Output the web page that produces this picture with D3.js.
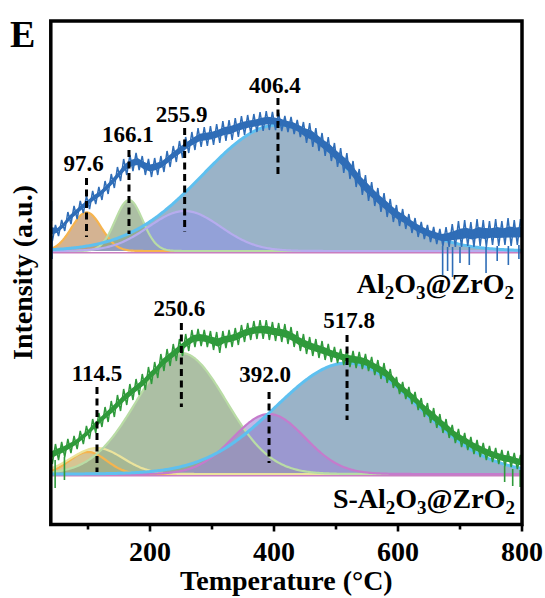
<!DOCTYPE html>
<html><head><meta charset="utf-8">
<script src="https://cdn.jsdelivr.net/npm/d3@7"></script>
<style>body{margin:0;background:#fff}svg{display:block}</style>
</head><body>
<svg id="chart" width="545" height="598"></svg>
<script>
// ---------- DATA ----------
// Temperature grid: 40..800 °C every 10 °C
const tempStart = 40, tempStep = 10;

// Al2O3@ZrO2 : noisy TPD trace, lower / upper envelope of the noise band (a.u. above baseline)
const topLow  = [10,15,20,27,32,38,42,47,51,57,63,70,76,80,81,76,74,76,79,84,89,93,98,101,104,105,106,108,110,111,114,116,118,119,120,121,121,120,119,117,114,108,104,100,95,90,84,78,72,64,56,50,45,39,34,29,25,22,18,14,12,9,7,5,4,4,4,5,4,5,4,6,5,6,5,6,6];
const topHigh = [30,26,31,39,45,50,55,60,64,70,77,84,92,96,98,95,92,93,95,100,105,110,114,119,123,124,125,127,130,131,133,135,136,137,139,140,139,138,135,134,131,129,128,123,118,114,108,103,98,90,82,76,69,63,58,52,46,42,37,33,29,26,24,22,24,27,30,31,29,32,31,30,32,30,33,31,32];
// S-Al2O3@ZrO2
const botLow  = [10,14,17,21,25,30,35,41,47,52,57,63,69,74,79,84,90,96,103,108,113,118,123,127,128,127,124,121,126,127,129,132,134,135,135,134,133,132,130,127,123,120,118,116,114,112,111,109,107,106,105,103,99,95,91,86,80,75,70,64,57,51,46,41,36,31,27,24,20,17,14,12,10,8,7,5,4];
const botHigh = [28,30,32,35,38,43,48,55,61,67,73,79,85,90,95,100,107,112,120,125,130,135,140,144,145,144,143,142,143,144,146,149,151,153,154,154,152,151,150,147,143,140,137,135,133,130,127,125,124,123,122,120,117,114,111,105,97,92,87,82,76,71,66,60,55,49,45,41,37,34,31,28,26,24,23,21,19];

// isolated noise spikes [temperature, intensity]
const topSpikes = [[41,50],[42,-8],[672,-24],[680,-20],[688,-26],[700,-12],[715,-14],[742,-22],[760,-10],[778,-14],[795,-8]];
const botSpikes = [[47,-14],[62,-6],[772,-8],[785,-12],[797,-13]];

// Gaussian fit components: centre (°C), height (a.u.), sigma (°C)
const topPeakCenters = [97.6, 166.1, 255.9, 406.4];
const topPeakHeights = [38.6, 51, 40, 126];
const topPeakSigmas  = [24, 22, 58, 121];
const topPeakNames   = ["orange","green","purple","blue"];

const botPeakCenters = [100, 114.5, 250.6, 392.0, 517.8];
const botPeakHeights = [22, 26, 121, 60, 111];
const botPeakSigmas  = [30, 42, 72, 58, 115];
const botPeakNames   = ["orange","yellow","green","magenta","blue"];

// peak annotations
const topLabels = ["97.6","166.1","255.9","406.4"];
const botLabels = ["114.5","250.6","392.0","517.8"];

const xMajorTicks = [200, 400, 600, 800];
const xMinorTicks = [100, 300, 500, 700];

// ---------- LAYOUT / STYLE ----------
const M = {left: 50.8, right: 522, top: 21, bottom: 524.5};
const panelBase = {top: 273.5, bot: 50.5};   // baseline of each panel in y-units
const topAnno = [ {d:[73,14], t:80, dx:-3}, {d:[101,17], t:109, dx:-1}, {d:[123,19], t:129, dx:-3}, {d:[153,76], t:158, dx:-3} ];
const botAnno = [ {d:[87,2], t:93, dx:0}, {d:[151,67], t:158, dx:-2}, {d:[82,11], t:92, dx:-4}, {d:[139,54], t:146, dx:2} ];

const colors = {
  orange:  {stroke:"#f6b44e", fill:"#c59a6e", op:0.75},
  green:   {stroke:"#b9dca5", fill:"#90a986", op:0.75},
  purple:  {stroke:"#b6acee", fill:"#8f94e2", op:0.6},
  blue:    {stroke:"#5ec0f0", fill:"#7e9eb8", op:0.78},
  yellow:  {stroke:"#ebe39c", fill:"#d8cf92", op:0.6},
  magenta: {stroke:"#c57bcc", fill:"#9c86d6", op:0.6}
};
const serif = "'Liberation Serif','Times New Roman',serif";

const svg = d3.select("#chart");
const x = d3.scaleLinear().domain([40, 800]).range([M.left, M.right]);
const y = d3.scaleLinear().domain([0, M.bottom - M.top]).range([M.bottom, M.top]);

svg.append("defs").append("clipPath").attr("id","clip")
  .append("rect").attr("x", M.left).attr("y", M.top).attr("width", M.right-M.left).attr("height", M.bottom-M.top);
const plot = svg.append("g").attr("clip-path","url(#clip)");

const fine = d3.range(40, 801, 2);

function drawPanel(base, centers, heights, sigmas, names, low, high, spikes, dataColor, labels, anno){
  const g = plot.append("g");
  const comps = centers.map((c,i)=>({c, h:heights[i], s:sigmas[i], name:names[i]}));
  const gauss = (p,t)=> p.h*Math.exp(-((t-p.c)**2)/(2*p.s*p.s));
  const area = p => d3.area().x(t=>x(t)).y0(y(base)).y1(t=>y(base+gauss(p,t)))(fine);
  const line = p => d3.line().x(t=>x(t)).y(t=>y(base+gauss(p,t)))(fine);
  const blue = comps.find(p=>p.name==="blue");
  const others = comps.filter(p=>p.name!=="blue");
  // fills
  g.append("path").attr("d", area(blue)).attr("fill", colors.blue.fill).attr("fill-opacity", colors.blue.op);
  others.forEach(p=> g.append("path").attr("d", area(p)).attr("fill", colors[p.name].fill).attr("fill-opacity", colors[p.name].op));
  // pink baseline
  g.append("line").attr("x1", x(40)).attr("x2", x(800)).attr("y1", y(base-1.8)).attr("y2", y(base-1.8))
    .attr("stroke","#c97ec0").attr("stroke-width",1.6);
  // strokes
  others.forEach(p=> g.append("path").attr("d", line(p)).attr("fill","none").attr("stroke", colors[p.name].stroke).attr("stroke-width",2.2));
  g.append("path").attr("d", line(blue)).attr("fill","none").attr("stroke", colors.blue.stroke).attr("stroke-width",3);
  // data: solid core of the noise band + saw-tooth strokes spanning each sample's envelope
  const temps = low.map((_,i)=> tempStart + i*tempStep);
  const core = d3.area().x((d,i)=>x(temps[i])).y0((d,i)=>y(base+low[i]+(high[i]-low[i])*0.3)).y1((d,i)=>y(base+high[i]-(high[i]-low[i])*0.3));
  g.append("path").attr("d", core(low)).attr("fill", dataColor);
  const zig = [];
  temps.forEach((t,i)=>{ zig.push([t-2.5, high[i]]); zig.push([t+2.5, low[i]]); });
  g.append("path").attr("d", d3.line().x(d=>x(d[0])).y(d=>y(base+d[1]))(zig))
    .attr("fill","none").attr("stroke", dataColor).attr("stroke-width",1.5).attr("stroke-linejoin","miter");
  // spikes
  spikes.forEach(([t,v])=>{
    const i = Math.min(Math.round((t-tempStart)/tempStep), low.length-1);
    const from = v < 0 ? low[i] : high[i];
    g.append("line").attr("x1",x(t)).attr("x2",x(t)).attr("y1",y(base+from)).attr("y2",y(base+v))
      .attr("stroke",dataColor).attr("stroke-width",1.6);
  });
  // annotations
  labels.forEach((lab,i)=>{
    const v = +lab, a = anno[i];
    svg.append("line").attr("x1",x(v)).attr("x2",x(v)).attr("y1",y(base+a.d[0])).attr("y2",y(base+a.d[1]))
      .attr("stroke","#000").attr("stroke-width",3).attr("stroke-dasharray","7,4.5");
    svg.append("text").attr("x", x(v)+a.dx).attr("y", y(base+a.t)).attr("text-anchor","middle")
      .attr("font-family", serif).attr("font-weight","bold").attr("font-size",23).text(lab);
  });
}

drawPanel(panelBase.top, topPeakCenters, topPeakHeights, topPeakSigmas, topPeakNames, topLow, topHigh, topSpikes, "#2f6db7", topLabels, topAnno);
drawPanel(panelBase.bot, botPeakCenters, botPeakHeights, botPeakSigmas, botPeakNames, botLow, botHigh, botSpikes, "#2f9a3b", botLabels, botAnno);

// sample labels with subscripts
function formula(prefix, xr, yb){
  const t = svg.append("text").attr("x", xr).attr("y", yb).attr("text-anchor","end")
    .attr("font-family", serif).attr("font-weight","bold").attr("font-size",28);
  const parts = [[prefix+"Al",false],["2",true],["O",false],["3",true],["@ZrO",false],["2",true]];
  parts.forEach(([s,sub],i)=>{
    const ts = t.append("tspan").text(s);
    if(sub) ts.attr("font-size",19).attr("dy",6);
    else if(i>0) ts.attr("dy",-6);
  });
}
formula("", 514, 293);
formula("S-", 515, 508);

// frame
svg.append("rect").attr("x",M.left).attr("y",M.top).attr("width",M.right-M.left).attr("height",M.bottom-M.top)
  .attr("fill","none").attr("stroke","#000").attr("stroke-width",3.5);

// x axis ticks
const axis = svg.append("g");
xMajorTicks.forEach(v=>{
  axis.append("line").attr("x1",x(v)).attr("x2",x(v)).attr("y1",M.bottom).attr("y2",M.bottom+7).attr("stroke","#000").attr("stroke-width",2.6);
  axis.append("text").attr("x",x(v)).attr("y",561).attr("text-anchor","middle")
    .attr("font-family",serif).attr("font-weight","bold").attr("font-size",28).text(v);
});
xMinorTicks.forEach(v=>{
  axis.append("line").attr("x1",x(v)).attr("x2",x(v)).attr("y1",M.bottom).attr("y2",M.bottom+5).attr("stroke","#000").attr("stroke-width",2.6);
});

// axis titles
svg.append("text").attr("x",(M.left+M.right)/2).attr("y",590).attr("text-anchor","middle")
  .attr("font-family",serif).attr("font-weight","bold").attr("font-size",28).text("Temperature (°C)");
svg.append("text").attr("transform","translate(31.7,272.5) rotate(-90)").attr("text-anchor","middle")
  .attr("font-family",serif).attr("font-weight","bold").attr("font-size",28).text("Intensity (a.u.)");
// panel letter
svg.append("text").attr("x",10).attr("y",47).attr("font-family",serif).attr("font-weight","bold").attr("font-size",38).text("E");
</script>
</body></html>
